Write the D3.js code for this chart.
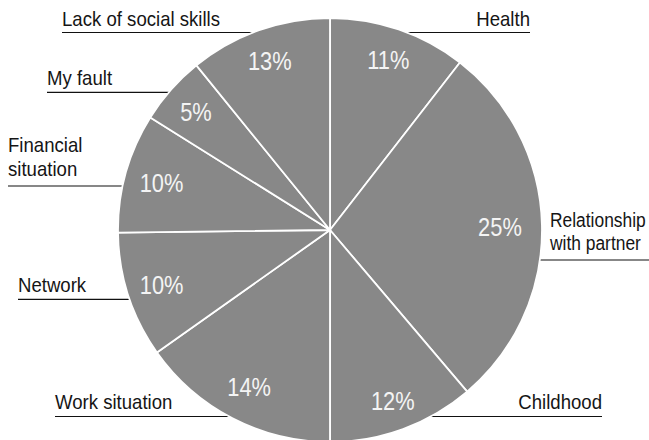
<!DOCTYPE html>
<html>
<head>
<meta charset="utf-8">
<script src="https://cdn.jsdelivr.net/npm/d3@7"></script>
<style>
  html, body { margin: 0; padding: 0; background: #fff; }
  svg { display: block; }
  .lbl { font-family: "Liberation Sans", Arial, "Helvetica", sans-serif; }
</style>
</head>
<body>
<svg id="chart" width="649" height="440"></svg>
<script>
// ---- data ----
const categories = ["Health", "Relationship with partner", "Childhood", "Work situation",
                    "Network", "Financial situation", "My fault", "Lack of social skills"];
// slice shares as drawn in the picture (angular share, %)
const shares = [10.5, 28.3, 11.2, 15.2, 9.6, 9.1, 5.25, 10.85];
// percentage labels printed on the slices
const pctLabels = ["11%", "25%", "12%", "14%", "10%", "10%", "5%", "13%"];

// ---- layout ----
const W = 649, H = 440;
const cx = 330, cy = 230, R = 212;
const svg = d3.select("#chart");

const pie = d3.pie().sort(null).value(d => d.v);
const arcs = pie(categories.map((c, i) => ({ c, v: shares[i], p: pctLabels[i] })));
const arc = d3.arc().innerRadius(0).outerRadius(R);
// label radius per slice (layout only)
const pctRadius = [180, 170, 182, 176, 177, 175, 179, 180];

// category label layout (positions only)
const catLayout = [
  { lines: ["Health"], x: 530, base: [26.5], uy: 32.5, side: "right" },
  { lines: ["Relationship", "with partner"], x: 550, base: [227, 250], uy: 260, side: "edge", sx: 0.87 },
  { lines: ["Childhood"], x: 602, base: [409], uy: 416.5, side: "right" },
  { lines: ["Work situation"], x: 55, base: [409], uy: 416.5, side: "left" },
  { lines: ["Network"], x: 18, base: [292.5], uy: 299.3, side: "left" },
  { lines: ["Financial", "situation"], x: 8, base: [152, 176], uy: 186, side: "left" },
  { lines: ["My fault"], x: 47, base: [85], uy: 92.3, side: "left" },
  { lines: ["Lack of social skills"], x: 62, base: [26.5], uy: 32.5, side: "left" }
];
const catFont = 20, catSX = 0.93;
const pctFont = 26, pctSX = 0.84;

const g = svg.append("g");

// category labels + leader underlines (behind pie)
const lblG = g.append("g");
catLayout.forEach((L) => {
  const sx = L.sx || catSX;
  const holder = lblG.append("g").attr("transform", `translate(${L.x},0) scale(${sx},1)`);
  const t = holder.append("text").attr("class", "lbl")
    .attr("font-size", catFont).attr("fill", "#151515")
    .attr("text-anchor", L.side === "right" ? "end" : "start");
  L.lines.forEach((s, k) => {
    t.append("tspan").attr("x", 0).attr("y", L.base[k]).text(s);
  });
  let x1, x2;
  if (L.side === "left") { x1 = L.x; x2 = cx; }
  else if (L.side === "right") { x1 = cx; x2 = L.x; }
  else { x1 = cx; x2 = W; }
  lblG.append("line").attr("x1", x1).attr("x2", x2).attr("y1", L.uy).attr("y2", L.uy)
    .attr("stroke", "#111").attr("stroke-width", 1.2);
});

// pie
const pg = g.append("g").attr("transform", `translate(${cx},${cy})`);
pg.selectAll("path.slice").data(arcs).join("path")
  .attr("class", "slice")
  .attr("d", arc)
  .attr("fill", "#888888")
  .attr("stroke", "#ffffff")
  .attr("stroke-width", 1.8)
  .attr("stroke-linejoin", "round");

pg.selectAll("text.pct").data(arcs).join("text")
  .attr("class", "pct lbl")
  .attr("transform", (d, i) => {
    const r = pctRadius[i];
    const c = d3.arc().innerRadius(r).outerRadius(r).centroid(d);
    return `translate(${c[0]},${c[1]}) scale(${pctSX},1)`;
  })
  .attr("text-anchor", "middle")
  .attr("dy", "0.36em")
  .attr("font-size", pctFont)
  .attr("fill", "#f4f4f4")
  .text(d => d.data.p);
</script>
</body>
</html>
